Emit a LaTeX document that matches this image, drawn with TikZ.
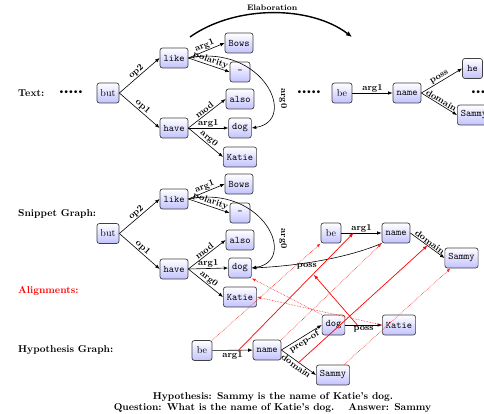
\documentclass[tikz,border=0pt]{standalone}
\usepackage{fontspec}
\usetikzlibrary{arrows.meta}
\newcommand{\onedot}{\makebox[4.8pt]{\textbullet}}
\newcommand{\fivedots}{\onedot\onedot\onedot\onedot\onedot}
\begin{document}
\begin{tikzpicture}[x=1pt,y=-1pt,
  amr/.style={draw=black!75, line width=0.7pt, rounded corners=2.5pt, top color=white, bottom color=blue!24, font=\ttfamily, minimum width=20pt, minimum height=20pt, inner xsep=3.5pt, inner ysep=2pt},
  amrrm/.style={amr, font=\rmfamily},
  lab/.style={font=\small\bfseries, inner sep=0.8pt},
  amredge/.style={-{Latex[length=4.5pt,width=3.5pt]}, line width=0.6pt},
  rowlab/.style={font=\bfseries, anchor=west, inner sep=0pt},
  redarr/.style={-{Latex[length=4.5pt,width=3.5pt]}, red, line width=0.7pt},
  reddot/.style={-{Latex[length=4pt,width=3pt]}, red!85, densely dotted, line width=0.6pt},
  dots/.style={inner sep=0pt}
]
\useasboundingbox (0,0) rectangle (484,414);
\clip (0,0) rectangle (484,414);

% ---------- Text row
\node[rowlab] (ltext) at (18,93) {Text:};
\node[dots] (tdots1) at (71,93) {\fivedots};
\node[amrrm] (tbut) at (108,93) {but};
\node[amr] (tlike) at (174,58) {like};
\node[amr] (thave) at (174,128) {have};
\node[amr] (tbows) at (239,43) {Bows};
\node[amr] (tneg) at (240,72) {-};
\node[amr] (talso) at (240,99) {also};
\node[amr] (tdog) at (240,128) {dog};
\node[amr] (tkatie) at (240,157) {Katie};
\node[dots] (tdots2) at (309,93) {\fivedots};
\node[amrrm] (tbe) at (342,93) {be};
\node[amr] (tname) at (407,93) {name};
\node[amr] (the) at (472.5,68.5) {he};
\node[amr] (tsammy) at (474,115) {Sammy};
\node[dots] (tdots3) at (483,93) {\fivedots};

\draw[amredge] (tbut.east) -- node[lab,sloped,above]{op2} (tlike.west);
\draw[amredge] (tbut.east) -- node[lab,sloped,above]{op1} (thave.west);
\draw[amredge] (tlike.east) -- node[lab,sloped,above]{arg1} (tbows.west);
\draw[amredge] (tlike.east) -- node[lab,sloped,above]{polarity} (tneg.west);
\draw[amredge] (thave.east) -- node[lab,sloped,above]{mod} (talso.west);
\draw[amredge] (thave.east) -- node[lab,sloped,above]{arg1} (tdog.west);
\draw[amredge] (thave.east) -- node[lab,sloped,above]{arg0} (tkatie.west);
\draw[amredge] (tlike.east) .. controls +(75,-15) and +(47,-7) .. node[lab,pos=0.62,rotate=-90,anchor=south,inner ysep=7pt]{arg0} (tdog.east);
\draw[amredge] (tbe) -- node[lab,above]{arg1} (tname);
\draw[amredge] (tname.east) -- node[lab,sloped,above]{poss} (the.west);
\draw[amredge] (tname.east) -- node[lab,sloped,above]{domain} (tsammy.west);

% Elaboration
\coordinate (elabS) at (190,37);
\coordinate (elabE) at (352,37);
\draw[line width=1.4pt, -{Latex[length=6pt,width=5pt]}] (elabS) .. controls (235,5) and (310,5) .. node[pos=0.5,above,font=\footnotesize\bfseries,inner sep=1.5pt]{Elaboration} (elabE);

% ---------- Snippet row
\node[rowlab] (lsnip) at (18,214) {Snippet Graph:};
\node[amrrm] (sbut) at (108,233.5) {but};
\node[amr] (slike) at (174,199) {like};
\node[amr] (shave) at (174,269) {have};
\node[amr] (sbows) at (239,184) {Bows};
\node[amr] (sneg) at (240,213) {-};
\node[amr] (salso) at (240,240) {also};
\node[amr] (sdog) at (240,268) {dog};
\node[amr] (skatie) at (240,297) {Katie};
\node[amrrm] (sbe) at (331,233) {be};
\node[amr] (sname) at (396,233) {name};
\node[amr] (ssammy) at (461.5,258) {Sammy};

\draw[amredge] (sbut.east) -- node[lab,sloped,above]{op2} (slike.west);
\draw[amredge] (sbut.east) -- node[lab,sloped,above]{op1} (shave.west);
\draw[amredge] (slike.east) -- node[lab,sloped,above]{arg1} (sbows.west);
\draw[amredge] (slike.east) -- node[lab,sloped,above]{polarity} (sneg.west);
\draw[amredge] (shave.east) -- node[lab,sloped,above]{mod} (salso.west);
\draw[amredge] (shave.east) -- node[lab,sloped,above]{arg1} (sdog.west);
\draw[amredge] (shave.east) -- node[lab,sloped,above]{arg0} (skatie.west);
\draw[amredge] (slike.east) .. controls +(75,-15) and +(47,-7) .. node[lab,pos=0.62,rotate=-90,anchor=south,inner ysep=7pt]{arg0} (sdog.east);
\draw[amredge] (sbe) -- node[lab,above]{arg1} coordinate[pos=0.3] (sarg1) (sname);
\draw[amredge] (sname.east) -- node[lab,sloped,above]{domain} coordinate[pos=0.5] (sdom) (ssammy.west);
\draw[amredge] (sname.south west) .. controls +(-35,15) and +(45,-2) .. node[lab,pos=0.6,below] (sposs) {poss} (sdog.east);
\coordinate (sposstip) at ([xshift=7pt,yshift=-4pt]sposs.south);

\node[rowlab, text=red] (lalign) at (18,291) {Alignments:};

% ---------- Hypothesis row
\node[rowlab] (lhyp) at (18,350) {Hypothesis Graph:};
\node[amrrm] (hbe) at (202,350.5) {be};
\node[amr] (hname) at (267,350) {name};
\node[amr] (hdog) at (333.5,325) {dog};
\node[amr] (hkatie) at (399,325) {Katie};
\node[amr] (hsammy) at (333,375) {Sammy};

\draw[amredge] (hbe) -- node[lab,below]{arg1} coordinate[pos=0.65] (harg1) (hname);
\draw[amredge] (hname.east) -- node[lab,sloped,below]{prep-of} (hdog.west);
\draw[amredge] (hname.east) -- node[lab,sloped,below]{domain} coordinate[pos=0.5] (hdom) (hsammy.west);
\draw[amredge] (hdog) -- node[lab,below]{poss} coordinate[pos=0.33] (hposs) (hkatie);

% ---------- Alignments
\draw[redarr] (harg1) -- (sarg1);
\draw[redarr] (hdom) -- (sdom);
\draw[redarr] (hposs) -- (sposstip);
\draw[reddot] (hbe.north east) -- (sbe.south west);
\draw[reddot] (hname.north east) -- (sname.south west);
\draw[reddot] ([xshift=11pt]hsammy.north) -- ([xshift=-11pt]ssammy.south);
\draw[reddot] (hdog.north west) -- (sdog.south east);
\draw[reddot] (hkatie.west) -- (skatie.east);

% ---------- Captions
\node[font=\bfseries] (cap1) at (273,397) {Hypothesis: Sammy is the name of Katie's dog.};
\node[font=\bfseries] (cap2) at (272.5,408) {Question: What is the name of Katie's dog.\hspace{14pt}Answer: Sammy};
\end{tikzpicture}
\end{document}
